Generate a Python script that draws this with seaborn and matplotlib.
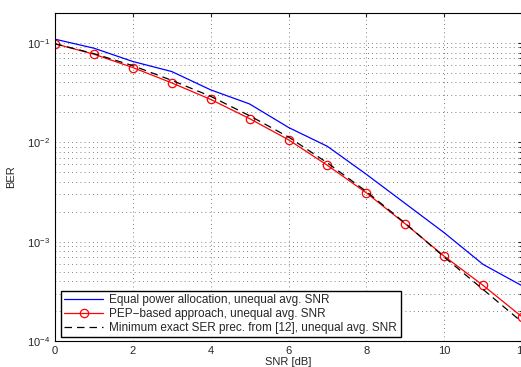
import numpy as np
import pandas as pd
import matplotlib
matplotlib.use("Agg")
import matplotlib.pyplot as plt
import seaborn as sns
from matplotlib.ticker import LogLocator, NullFormatter

# Data
snr = [0, 1, 2, 3, 4, 5, 6, 7, 8, 9, 10, 11, 12]
ber_equal = [0.109, 0.0885, 0.065, 0.0515, 0.0337, 0.0243, 0.0141, 0.0091,
             0.00476, 0.00242, 0.00123, 0.00059, 0.00036]
ber_pep = [0.098, 0.077, 0.0565, 0.0396, 0.027, 0.0173, 0.0106, 0.00586,
           0.0031, 0.00151, 0.000714, 0.000363, 0.000175]
ber_min = [0.098, 0.078, 0.059, 0.042, 0.029, 0.0185, 0.0113, 0.0062,
           0.0032, 0.00153, 0.0007, 0.00033, 0.000155]

labels = ['Equal power allocation, unequal avg. SNR',
          'PEP\u2212based approach, unequal avg. SNR',
          'Minimum exact SER prec. from [12], unequal avg. SNR']

sns.set_style("white")
plt.rcParams['font.family'] = ['Liberation Sans', 'DejaVu Sans']
plt.rcParams['mathtext.fontset'] = 'custom'
plt.rcParams['mathtext.rm'] = 'Liberation Sans'
plt.rcParams['mathtext.it'] = 'Liberation Sans'

fig = plt.figure(figsize=(5.21, 3.67), dpi=100)
ax = fig.add_axes([55 / 521, 1 - 341 / 367, 467 / 521, 328 / 367])

sns.lineplot(x=snr, y=ber_equal, ax=ax, color='blue', lw=0.9, label=labels[0])
sns.lineplot(x=snr, y=ber_pep, ax=ax, color='red', lw=0.9, marker='o',
             markersize=6, markerfacecolor='none', markeredgecolor='red',
             markeredgewidth=0.9, label=labels[1])
sns.lineplot(x=snr, y=ber_min, ax=ax, color='black', lw=0.9,
             dashes=(6, 4), label=labels[2])

ax.set_yscale('log')
ax.set_xlim(0, 12)
ax.set_ylim(1e-4, 0.2)
ax.set_xticks([0, 2, 4, 6, 8, 10, 12])
ax.yaxis.set_major_locator(LogLocator(base=10, numticks=10))
ax.yaxis.set_minor_locator(LogLocator(base=10, subs=np.arange(2, 10), numticks=10))
ax.yaxis.set_minor_formatter(NullFormatter())

grid_kw = dict(linestyle=(0, (1, 4)), color='0.35', lw=0.6)
ax.grid(True, which='major', axis='both', **grid_kw)
ax.grid(True, which='minor', axis='y', **grid_kw)

ax.tick_params(which='both', direction='in', top=True, right=True,
               labelsize=8, length=3, width=0.8)
ax.tick_params(which='minor', length=2)
for s in ax.spines.values():
    s.set_linewidth(0.8)
    s.set_color('black')

ax.set_xlabel('SNR [dB]', fontsize=8, labelpad=1)
ax.set_ylabel('BER', fontsize=8, labelpad=8)

leg = ax.legend(loc='lower left', bbox_to_anchor=(0.005, 0.0), fontsize=8.5,
                handlelength=3.3, labelspacing=0.15, borderpad=0.3,
                handletextpad=0.5, fancybox=False, framealpha=1,
                edgecolor='black', borderaxespad=0.3)
leg.get_frame().set_linewidth(1.0)

fig.savefig('out.png', dpi=100)
